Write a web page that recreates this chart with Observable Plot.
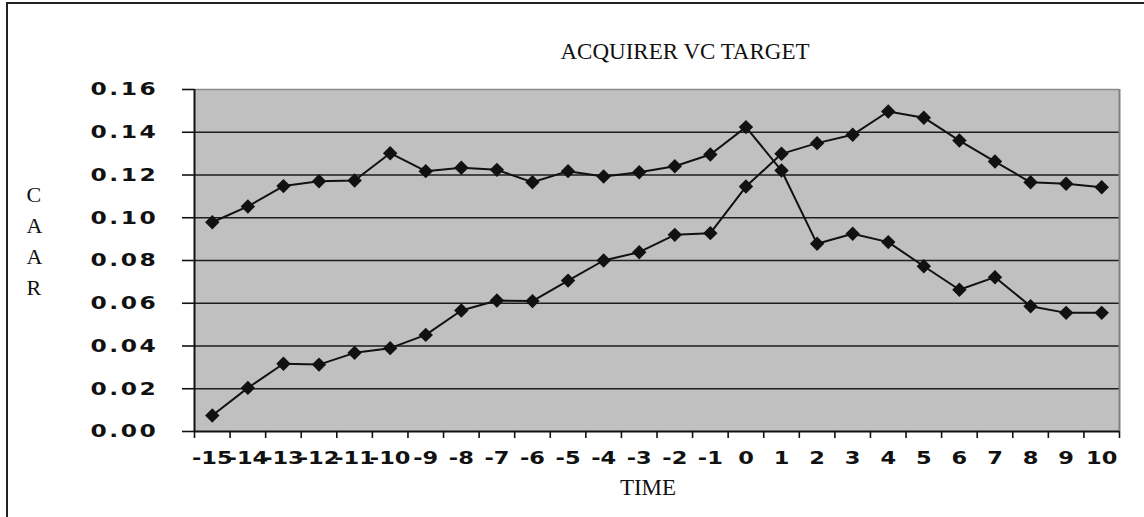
<!DOCTYPE html>
<html>
<head>
<meta charset="utf-8">
<script src="https://cdn.jsdelivr.net/npm/d3@7"></script>
<script src="https://cdn.jsdelivr.net/npm/@observablehq/plot@0.6"></script>
<style>
  html, body { margin: 0; padding: 0; background: #fff; }
  #wrap { position: relative; width: 1144px; height: 517px; overflow: hidden; }
  #border { position: absolute; left: 6px; top: 2px; width: 1200px; height: 600px;
            border-left: 2px solid #222; border-top: 2px solid #222; pointer-events: none; }
</style>
</head>
<body>
<div id="wrap"><div id="border"></div></div>
<script>
// Event time (days)
const time = [-15, -14, -13, -12, -11, -10, -9, -8, -7, -6, -5, -4, -3, -2, -1, 0, 1, 2, 3, 4, 5, 6, 7, 8, 9, 10];
const xLabels = ["-15", "-14", "-13", "-12", "-11", "-10", "-9", "-8", "-7", "-6", "-5", "-4", "-3", "-2", "-1", "0", "1", "2", "3", "4", "5", "6", "7", "8", "9", "10"];
// Series starting high (peaks at t=0)
const seriesA = [0.0979, 0.1053, 0.1148, 0.1171, 0.1174, 0.1302, 0.1218, 0.1234, 0.1224, 0.1166, 0.1218, 0.1193, 0.1213, 0.1241, 0.1296, 0.1424, 0.1221, 0.0878, 0.0925, 0.0886, 0.0773, 0.0663, 0.0722, 0.0586, 0.0555, 0.0555];
// Series starting low (rises to t=4)
const seriesB = [0.0075, 0.0204, 0.0317, 0.0313, 0.0368, 0.0390, 0.0452, 0.0566, 0.0613, 0.0610, 0.0706, 0.0800, 0.0839, 0.0920, 0.0928, 0.1146, 0.1299, 0.1349, 0.1388, 0.1497, 0.1468, 0.1361, 0.1263, 0.1166, 0.1159, 0.1143];
const yTicks = [0, 0.02, 0.04, 0.06, 0.08, 0.10, 0.12, 0.14, 0.16];
const title = "ACQUIRER VC TARGET";
const xTitle = "TIME";
const yTitle = "C\nA\nA\nR";

const rows = [
  ...time.map((t, i) => ({time: t, series: "A", value: seriesA[i]})),
  ...time.map((t, i) => ({time: t, series: "B", value: seriesB[i]}))
];
const bounds = [...time.map(t => t - 0.5), time[time.length - 1] + 0.5];
const xmin = bounds[0], xmax = bounds[bounds.length - 1];
const serif = "'Liberation Serif', 'Times New Roman', serif";
const sans = "'DejaVu Sans', sans-serif";

const chart = Plot.plot({
  width: 1144,
  height: 517,
  marginLeft: 194,
  marginRight: 25,
  marginTop: 89,
  marginBottom: 86,
  style: {background: "transparent", color: "#111"},
  x: {domain: [xmin, xmax], label: null},
  y: {domain: [0, 0.16], label: null},
  marks: [
    Plot.frame({fill: "#c0c0c0", stroke: "none"}),
    Plot.ruleY(yTicks.filter(d => d > 0 && d < 0.16), {stroke: "#1e1e1e", strokeWidth: 1.6}),
    Plot.ruleY([0.16], {stroke: "#8a8a8a", strokeWidth: 1.5}),
    Plot.ruleX([xmax], {stroke: "#808080", strokeWidth: 2}),
    Plot.ruleX([xmin], {stroke: "#111", strokeWidth: 2}),
    Plot.ruleY([0], {stroke: "#111", strokeWidth: 2}),
    Plot.axisY({ticks: yTicks, label: null, tickSize: 12, tickPadding: 24, tickFormat: d => d.toFixed(2),
      fontSize: 18, fontWeight: "bold", fontFamily: sans, stroke: "#111", strokeWidth: 1.6}),
    Plot.axisX({ticks: bounds, label: null, tickSize: 7, tickFormat: () => "", stroke: "#111", strokeWidth: 1.6}),
    Plot.axisX({ticks: time, label: null, tickSize: 0, tickPadding: 20, tickFormat: d => xLabels[time.indexOf(d)],
      fontSize: 18, fontWeight: "bold", fontFamily: sans}),
    Plot.line(rows, {x: "time", y: "value", z: "series", stroke: "#111", strokeWidth: 2}),
    Plot.dot(rows, {x: "time", y: "value", symbol: "diamond2", r: 6.5, fill: "#111", stroke: "none"}),
    Plot.text([title], {frameAnchor: "top", dx: 28, dy: -47, fontFamily: serif, fontSize: 23, fill: "#111"}),
    Plot.text([xTitle], {frameAnchor: "bottom", dx: -9, dy: 63, fontFamily: serif, fontSize: 23, fill: "#111"}),
    Plot.text([yTitle], {frameAnchor: "left", dx: -168, dy: -22, lineHeight: 1.42, fontFamily: serif, fontSize: 22, fill: "#111"})
  ]
});

// widen the bold tick-label glyphs like the original's stretched font
chart.querySelectorAll('g[aria-label="y-axis tick label"] text, g[aria-label="x-axis tick label"] text').forEach(t => {
  const isY = t.closest('g[aria-label="y-axis tick label"]') !== null;
  const tr = t.getAttribute("transform");
  if (!tr) return;
  t.setAttribute("transform", tr + (isY ? " scale(1.3,1)" : " scale(1.25,1)"));
  if (isY) t.setAttribute("letter-spacing", "2");
});

document.getElementById("wrap").appendChild(chart);
</script>
</body>
</html>
